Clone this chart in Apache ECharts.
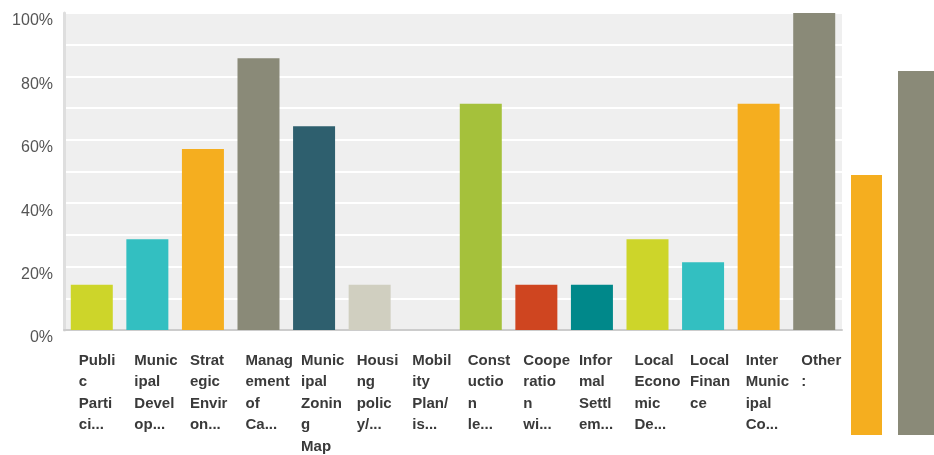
<!DOCTYPE html>
<html>
<head>
<meta charset="utf-8">
<script src="https://cdn.jsdelivr.net/npm/echarts@6/dist/echarts.min.js"></script>
<style>html,body{margin:0;padding:0;background:#fff}#c{width:934px;height:455px}</style>
</head>
<body>
<div id="c"></div>
<script>
const categories = [
  "Publi\nc\nParti\nci...",
  "Munic\nipal\nDevel\nop...",
  "Strat\negic\nEnvir\non...",
  "Manag\nement\nof\nCa...",
  "Munic\nipal\nZonin\ng\nMap",
  "Housi\nng\npolic\ny/...",
  "Mobil\nity\nPlan/\nis...",
  "Const\nuctio\nn\nle...",
  "Coope\nratio\nn\nwi...",
  "Infor\nmal\nSettl\nem...",
  "Local\nEcono\nmic\nDe...",
  "Local\nFinan\nce",
  "Inter\nMunic\nipal\nCo...",
  "Other\n:"
];
const values = [14.3, 28.6, 57.1, 85.7, 64.3, 14.3, 0, 71.4, 14.3, 14.3, 28.6, 21.4, 71.4, 100];
const palette = ["#cdd52a", "#33bfc1", "#f5ae1f", "#8a8a78", "#2e5f6e", "#d0cfc0", "#b8b8a8", "#a5c13b", "#cf4520", "#00888a"];
const yTicks = [0, 20, 40, 60, 80, 100];
const extraValues = [71.4, 100];
const extraColors = ["#f5ae1f", "#8a8a78"];

const chart = echarts.init(document.getElementById('c'), null, {renderer: 'canvas'});
chart.setOption({
  animation: false,
  grid: [
    {left: 64, right: 92, top: 13, bottom: 125, show: true, backgroundColor: '#efefef', borderWidth: 0},
    {left: 851, width: 31, top: 71, bottom: 20},
    {left: 898, width: 40, top: 71, bottom: 20}
  ],
  xAxis: [
    {
      type: 'category', gridIndex: 0, data: categories,
      axisTick: {show: false},
      axisLine: {show: true, lineStyle: {color: '#cccccc', width: 2}},
      axisLabel: {
        interval: 0, margin: 20, align: 'center',
        formatter: v => v.split('\n').map(s => '{l|' + s + '}').join('\n'),
        rich: {l: {width: 26, align: 'left', fontSize: 15, fontWeight: 'bold', color: '#3a3a3a', fontFamily: 'Liberation Sans, Arial, sans-serif', lineHeight: 21.5}}
      }
    },
    {type: 'category', gridIndex: 1, data: ['a'], show: false},
    {type: 'category', gridIndex: 2, data: ['b'], show: false}
  ],
  yAxis: [
    {
      type: 'value', gridIndex: 0, min: 0, max: 100, interval: 10,
      axisLine: {show: true, lineStyle: {color: '#dedede', width: 3}},
      axisTick: {show: false},
      splitLine: {show: true, lineStyle: {color: '#ffffff', width: 2}},
      axisLabel: {
        margin: 11, fontSize: 16, color: '#555555', fontFamily: 'Liberation Sans, Arial, sans-serif',
        verticalAlign: 'top', lineHeight: 16,
        formatter: v => yTicks.indexOf(v) >= 0 ? v + '%' : ''
      }
    },
    {type: 'value', gridIndex: 1, min: 0, max: 100, show: false},
    {type: 'value', gridIndex: 2, min: 0, max: 100, show: false}
  ],
  series: [
    {
      type: 'bar', xAxisIndex: 0, yAxisIndex: 0, barWidth: 42,
      data: values.map((v, i) => ({value: v, itemStyle: {color: palette[i % palette.length]}}))
    },
    {
      type: 'bar', xAxisIndex: 1, yAxisIndex: 1, barWidth: '100%',
      data: [{value: extraValues[0], itemStyle: {color: extraColors[0]}}]
    },
    {
      type: 'bar', xAxisIndex: 2, yAxisIndex: 2, barWidth: '100%',
      data: [{value: extraValues[1], itemStyle: {color: extraColors[1]}}]
    }
  ]
});
</script>
</body>
</html>
